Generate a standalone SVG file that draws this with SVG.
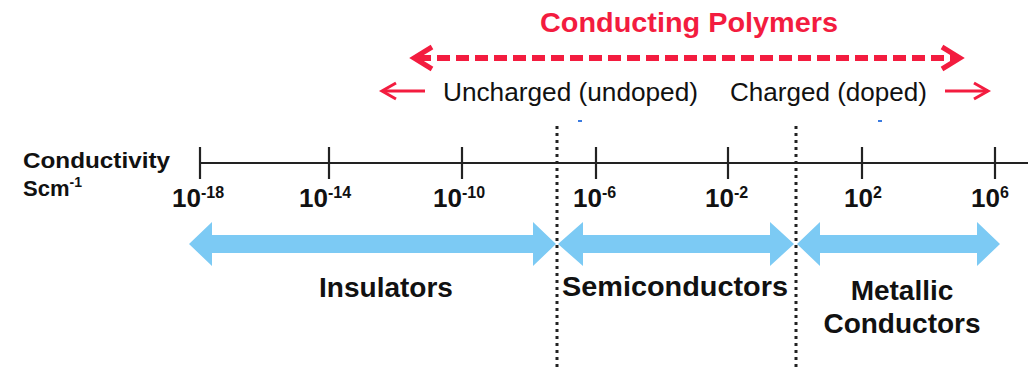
<svg xmlns="http://www.w3.org/2000/svg" width="1028" height="368" viewBox="0 0 1028 368">
<style>
text{font-family:"Liberation Sans",Arial,sans-serif;fill:#111}
.b{font-weight:bold}
.red{fill:#f31c3f}
.tick{stroke:#222;stroke-width:2.2}
.dot{stroke:#222;stroke-width:3;stroke-dasharray:3 4;fill:none}
.blue{fill:#7ccaf4}
.rs{stroke:#f31c3f;fill:none;stroke-linecap:butt}
.num{font-weight:bold;font-size:26px}
.sup{font-weight:bold;font-size:16px}
</style>
<rect width="1028" height="368" fill="#fff"/>

<g id="title">
<text x="540" y="32" class="b red" font-size="28" textLength="298" lengthAdjust="spacingAndGlyphs">Conducting Polymers</text>
</g>

<g id="connectors">
<line class="rs" x1="418" y1="58" x2="958" y2="58" stroke-width="6" stroke-dasharray="13 6"/>
<polyline class="rs" points="432,47 414,58 432,69" stroke-width="5"/>
<polyline class="rs" points="942,47 960,58 942,69" stroke-width="5"/>
<line class="rs" x1="383" y1="91" x2="425" y2="91" stroke-width="3"/>
<polyline class="rs" points="396,83 382,91 396,99" stroke-width="3"/>
<line class="rs" x1="945" y1="91" x2="988" y2="91" stroke-width="3"/>
<polyline class="rs" points="974,83 988,91 974,99" stroke-width="3"/>
</g>

<g id="uncharged">
<text x="443" y="101" font-size="25" textLength="255" lengthAdjust="spacingAndGlyphs">Uncharged (undoped)</text>
</g>
<g id="charged">
<text x="730" y="101" font-size="25" textLength="197" lengthAdjust="spacingAndGlyphs">Charged (doped)</text>
</g>
<g id="marks">
<rect x="578" y="120" width="4" height="2" fill="#3b7be0"/>
<rect x="878" y="120" width="4" height="2" fill="#3b7be0"/>
</g>

<g id="axis">
<text x="23" y="168" class="b" font-size="22" textLength="147" lengthAdjust="spacingAndGlyphs">Conductivity</text>
<text x="23" y="196" class="b" font-size="22">Scm<tspan font-size="14" dy="-9">-1</tspan></text>
<line class="tick" x1="200" y1="163" x2="1028" y2="163"/>
<line class="tick" x1="200" y1="147" x2="200" y2="179"/>
<line class="tick" x1="329" y1="147" x2="329" y2="179"/>
<line class="tick" x1="462" y1="147" x2="462" y2="179"/>
<line class="tick" x1="596" y1="147" x2="596" y2="179"/>
<line class="tick" x1="728" y1="147" x2="728" y2="179"/>
<line class="tick" x1="862" y1="147" x2="862" y2="179"/>
<line class="tick" x1="995" y1="147" x2="995" y2="179"/>
<text x="172" y="207" class="num">10<tspan class="sup" dy="-9">-18</tspan></text>
<text x="299" y="207" class="num">10<tspan class="sup" dy="-9">-14</tspan></text>
<text x="433" y="207" class="num">10<tspan class="sup" dy="-9">-10</tspan></text>
<text x="573" y="207" class="num">10<tspan class="sup" dy="-9">-6</tspan></text>
<text x="705" y="207" class="num">10<tspan class="sup" dy="-9">-2</tspan></text>
<text x="844" y="207" class="num">10<tspan class="sup" dy="-9">2</tspan></text>
<text x="971" y="207" class="num">10<tspan class="sup" dy="-9">6</tspan></text>
</g>

<g id="dividers">
<line class="dot" x1="557" y1="126" x2="557" y2="368"/>
<line class="dot" x1="796" y1="126" x2="796" y2="368"/>
</g>

<g id="insulators">
<polygon class="blue" points="189,244 212,222 212,235 533,235 533,222 556,244 533,266 533,253 212,253 212,266"/>
<text x="386" y="297" class="b" font-size="28" text-anchor="middle">Insulators</text>
</g>
<g id="semiconductors">
<polygon class="blue" points="558,244 583,222 583,235 770,235 770,222 794,244 770,266 770,253 583,253 583,266"/>
<text x="675" y="296" class="b" font-size="28" text-anchor="middle" textLength="226" lengthAdjust="spacingAndGlyphs">Semiconductors</text>
</g>
<g id="metallic">
<polygon class="blue" points="797,244 820,222 820,235 977,235 977,222 1000,244 977,266 977,253 820,253 820,266"/>
<text x="902" y="300" class="b" font-size="28" text-anchor="middle">Metallic</text>
<text x="902" y="333" class="b" font-size="28" text-anchor="middle">Conductors</text>
</g>
</svg>
